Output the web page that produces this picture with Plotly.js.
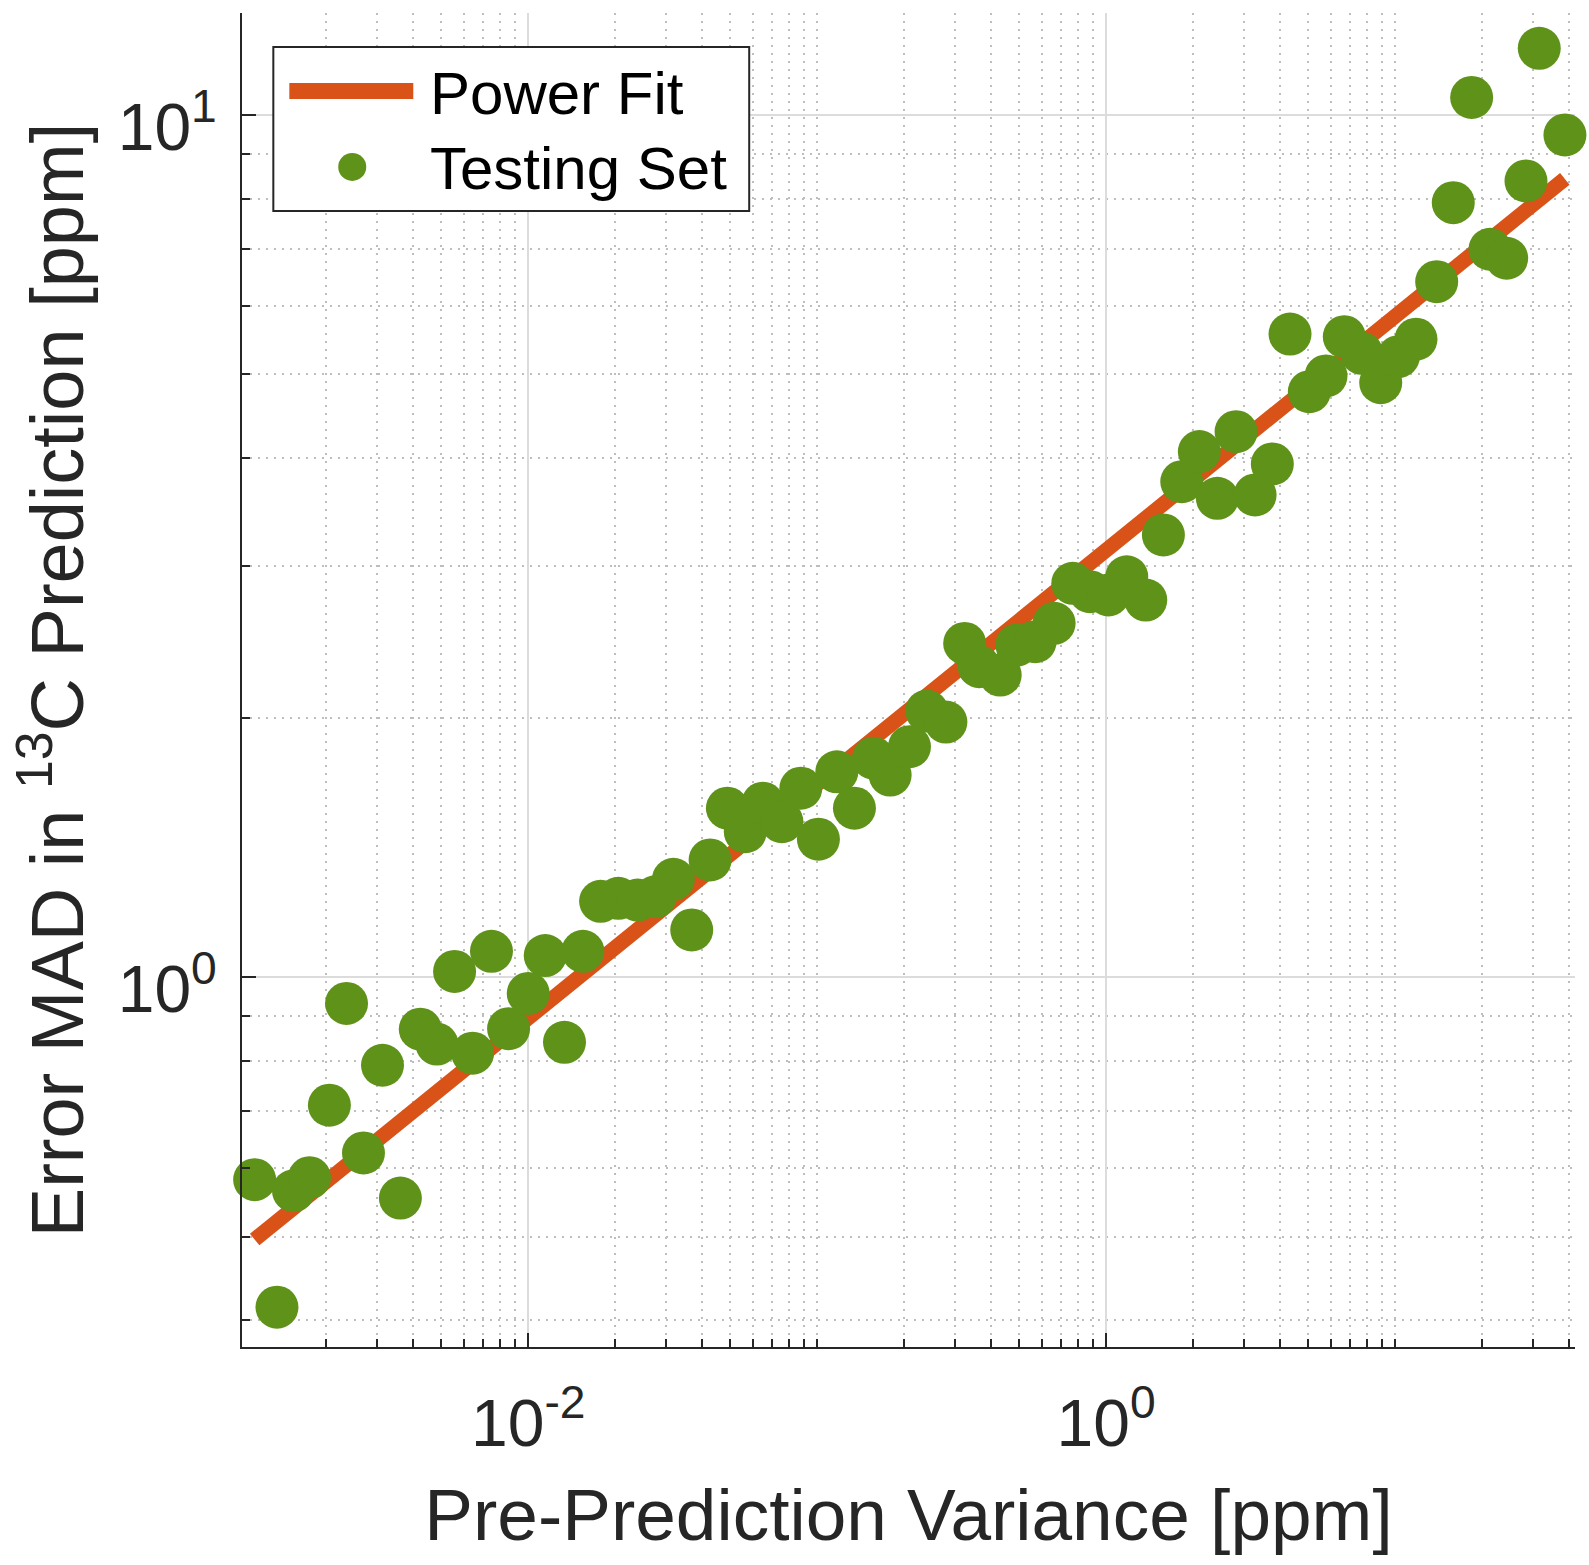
<!DOCTYPE html>
<html>
<head>
<meta charset="utf-8">
<script src="https://cdn.plot.ly/plotly-3.0.1.min.js"></script>
<style>
  html, body { margin: 0; padding: 0; background: #ffffff; }
  #chart { width: 1589px; height: 1565px; }
</style>
</head>
<body>
<div id="chart"></div>
<script>
// ---- data ----
var varianceX = [
  0.00113, 0.00135, 0.00154, 0.00175, 0.00205, 0.00235, 0.00269, 0.00313, 0.00361, 0.00423,
  0.00483, 0.00556, 0.00642, 0.00746, 0.00855, 0.0100, 0.01145, 0.01335, 0.01546, 0.0178,
  0.0205, 0.0239, 0.0275, 0.0318, 0.0368, 0.0426, 0.0489, 0.0564, 0.0649, 0.0755,
  0.0878, 0.101, 0.117, 0.1346, 0.1566, 0.1789, 0.2087, 0.2396, 0.279, 0.324,
  0.364, 0.430, 0.491, 0.568, 0.661, 0.767, 0.880, 1.019, 1.179, 1.372,
  1.579, 1.828, 2.103, 2.427, 2.818, 3.279, 3.762, 4.332, 5.052, 5.770,
  6.676, 7.670, 8.924, 10.27, 11.82, 13.94, 15.91, 18.42, 21.32, 24.35,
  28.40, 31.57, 38.74
];
var errorMAD = [
  0.582, 0.414, 0.565, 0.585, 0.710, 0.932, 0.625, 0.790, 0.554, 0.870,
  0.836, 1.015, 0.816, 1.071, 0.871, 0.957, 1.059, 0.840, 1.071, 1.224,
  1.234, 1.228, 1.239, 1.298, 1.134, 1.367, 1.570, 1.474, 1.591, 1.514,
  1.656, 1.445, 1.730, 1.570, 1.794, 1.715, 1.850, 2.035, 1.976, 2.438,
  2.291, 2.240, 2.427, 2.449, 2.572, 2.862, 2.799, 2.775, 2.913, 2.737,
  3.257, 3.755, 4.069, 3.592, 4.291, 3.624, 3.937, 5.570, 4.775, 4.980,
  5.531, 5.291, 4.892, 5.244, 5.494, 6.407, 7.912, 10.48, 6.986, 6.820,
  8.384, 11.95, 9.480
];
// power-fit line end points (straight in log-log)
var fitX = [0.00113, 38.7];
var fitY = [0.496, 8.43];

// tick labels
var xTickVals = [0.01, 1];
var xTickText = ['10<sup>-2</sup>', '10<sup>0</sup>'];
var yTickVals = [1, 10];
var yTickText = ['10<sup>0</sup>', '10<sup>1</sup>'];
var xMinorVals = [0.002, 0.003, 0.004, 0.005, 0.006, 0.007, 0.008, 0.009,
                  0.02, 0.03, 0.04, 0.05, 0.06, 0.07, 0.08, 0.09, 0.1,
                  0.2, 0.3, 0.4, 0.5, 0.6, 0.7, 0.8, 0.9,
                  2, 3, 4, 5, 6, 7, 8, 9, 10, 20, 30, 40];
var yMinorVals = [0.4, 0.5, 0.6, 0.7, 0.8, 0.9, 2, 3, 4, 5, 6, 7, 8, 9];

var legendNames = ['Power Fit', 'Testing Set'];
var xTitle = 'Pre-Prediction Variance [ppm]';
var yTitle = 'Error MAD in <sup>13</sup>C Prediction [ppm]';

// ---- styling ----
var FONT = "'Liberation Sans', Arial, Helvetica, sans-serif";
var AXIS_COLOR = '#262626';
var FIT_COLOR = '#D95319';
var DOT_COLOR = '#5E9219';

var traces = [
  {
    x: fitX, y: fitY, type: 'scatter', mode: 'lines', name: legendNames[0],
    line: { color: FIT_COLOR, width: 15 }, showlegend: false, hoverinfo: 'skip'
  },
  {
    x: varianceX, y: errorMAD, type: 'scatter', mode: 'markers', name: legendNames[1],
    marker: { color: DOT_COLOR, size: 43, line: { width: 0 } },
    cliponaxis: false, showlegend: false
  }
];

function axisCommon() {
  return {
    type: 'log',
    showline: true, linecolor: AXIS_COLOR, linewidth: 2, mirror: false,
    ticks: 'inside', ticklen: 14, tickwidth: 2, tickcolor: AXIS_COLOR,
    showgrid: true, gridcolor: '#dcdcdc', gridwidth: 2,
    zeroline: false, automargin: false,
    tickfont: { family: FONT, size: 66, color: AXIS_COLOR },
    tickmode: 'array'
  };
}

var xaxis = axisCommon();
xaxis.range = [-2.9907, 1.623];
xaxis.tickvals = xTickVals;
xaxis.ticktext = xTickText;
xaxis.ticklabelstandoff = 18;
xaxis.minor = {
  tickmode: 'array', tickvals: xMinorVals, ticks: 'inside', ticklen: 8, tickwidth: 2,
  tickcolor: AXIS_COLOR, showgrid: true, gridcolor: '#bdbdbd', gridwidth: 2, griddash: '2px,6px'
};
xaxis.title = { text: xTitle, font: { family: FONT, size: 73, color: AXIS_COLOR }, standoff: 30 };

var yaxis = axisCommon();
yaxis.range = [-0.4292, 1.1183];
yaxis.tickvals = yTickVals;
yaxis.ticktext = yTickText;
yaxis.ticklabelstandoff = 10;
yaxis.ticklabelshift = 12;
yaxis.minor = {
  tickmode: 'array', tickvals: yMinorVals, ticks: 'inside', ticklen: 8, tickwidth: 2,
  tickcolor: AXIS_COLOR, showgrid: true, gridcolor: '#bdbdbd', gridwidth: 2, griddash: '2px,6px'
};
yaxis.title = { text: yTitle, font: { family: FONT, size: 74, color: AXIS_COLOR }, standoff: 10 };

// hand-built legend (MATLAB style: long thick line sample, big dot)
var shapes = [
  { type: 'rect', xref: 'paper', yref: 'paper', x0: 0.0235, x1: 0.3805, y0: 0.8516, y1: 0.9745,
    line: { color: AXIS_COLOR, width: 2 }, fillcolor: '#ffffff', layer: 'above' },
  { type: 'line', xref: 'paper', yref: 'paper', x0: 0.0355, x1: 0.1285, y0: 0.9415, y1: 0.9415,
    line: { color: FIT_COLOR, width: 16 }, layer: 'above' },
  { type: 'circle', xref: 'paper', yref: 'paper', xsizemode: 'pixel', ysizemode: 'pixel',
    xanchor: 0.0827, yanchor: 0.8846, x0: -14, x1: 14, y0: -14, y1: 14,
    fillcolor: DOT_COLOR, line: { width: 0 }, layer: 'above' }
];
var annotations = [
  { xref: 'paper', yref: 'paper', x: 0.1395, y: 0.9400, xanchor: 'left', yanchor: 'middle',
    text: legendNames[0], showarrow: false, font: { family: FONT, size: 60, color: '#000000' } },
  { xref: 'paper', yref: 'paper', x: 0.1395, y: 0.8838, xanchor: 'left', yanchor: 'middle',
    text: legendNames[1], showarrow: false, font: { family: FONT, size: 60, color: '#000000' } }
];

var layout = {
  width: 1589, height: 1565,
  margin: { l: 242, r: 14, t: 13, b: 218, pad: 0 },
  paper_bgcolor: '#ffffff', plot_bgcolor: '#ffffff',
  font: { family: FONT, color: AXIS_COLOR },
  xaxis: xaxis, yaxis: yaxis,
  showlegend: false,
  shapes: shapes, annotations: annotations
};

Plotly.newPlot('chart', traces, layout, { displayModeBar: false, staticPlot: true });
</script>
</body>
</html>
